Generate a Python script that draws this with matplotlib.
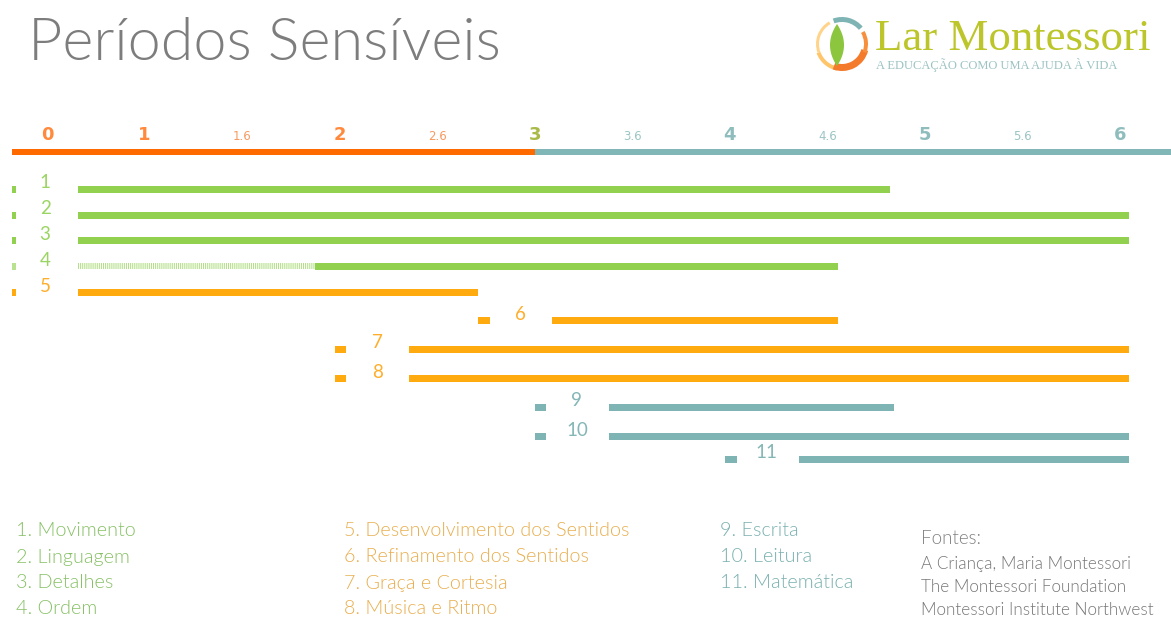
import numpy as np
import matplotlib
matplotlib.use("Agg")
import matplotlib.pyplot as plt
from matplotlib.patches import Wedge, Polygon

plt.rcParams['lines.scale_dashes'] = False

# ---------------- data ----------------
tick_labels = ['0', '1', '1.6', '2', '2.6', '3', '3.6', '4', '4.6', '5', '5.6', '6']
tick_major = [True, True, False, True, False, True, False, True, False, True, False, True]
row_ids = ['1', '2', '3', '4', '5', '6', '7', '8', '9', '10', '11']
row_group = ['g', 'g', 'g', 'g', 'o', 'o', 'o', 'o', 't', 't', 't']
# positions on the tick-index scale (0 = "0", 11 = "6")
marker_pos = [-0.34, -0.34, -0.34, -0.34, -0.34, 4.48, 3.01, 3.01, 5.06, 5.06, 7.01]
label_pos = [-0.02, -0.02, -0.02, -0.02, -0.02, 4.85, 3.39, 3.39, 5.43, 5.44, 7.38]
bar_start = [0.32, 0.32, 0.32, 0.32, 0.32, 5.18, 3.71, 3.71, 5.76, 5.76, 7.71]
bar_end = [8.64, 11.09, 11.09, 8.11, 4.42, 8.11, 11.09, 11.09, 8.68, 11.09, 11.09]
dashed_end = [None, None, None, 2.75, None, None, None, None, None, None, None]
axis_split = 5  # orange until "3", teal after

legend_green = ['1. Movimento', '2. Linguagem', '3. Detalhes', '4. Ordem']
legend_orange = ['5. Desenvolvimento dos Sentidos', '6. Refinamento dos Sentidos',
                 '7. Graça e Cortesia', '8. Música e Ritmo']
legend_teal = ['9. Escrita', '10. Leitura', '11. Matemática']
sources = ['A Criança, Maria Montessori', 'The Montessori Foundation',
           'Montessori Institute Northwest']

# ---------------- style ----------------
W, H = 1171, 621
C_BAR = {'g': '#92d050', 'o': '#ffab0f', 't': '#7fb4b4'}
C_LAB = {'g': '#9ad563', 'o': '#ffae2b', 't': '#85b6b6'}
C_LEG = {'g': '#86c064', 'o': '#e8ae4e', 't': '#79afaf'}
row_y = [189, 215, 240, 266, 292, 320, 349, 378, 407, 436, 459]
FONT = 'Lato'

fig = plt.figure(figsize=(W / 100, H / 100), dpi=100)
deco = fig.add_axes([0, 0, 1, 1])
deco.set_xlim(0, W)
deco.set_ylim(H, 0)
deco.axis('off')

ax = fig.add_axes([0, 0, 1, 1])
x0_px, step_px = 47, 97.55
ax.set_xlim((0 - x0_px) / step_px, (W - x0_px) / step_px)
ax.set_ylim(H, 0)
ax.axis('off')
ax.patch.set_alpha(0)

# title
deco.text(28, 60, 'Períodos Sensíveis', fontsize=42.7, color='#7d7d7d',
          family=FONT, weight=300, va='baseline', ha='left')

# logo
cx, cy, r = 842, 44, 27
def vis_wedge(v1, v2, rr, w, color):
    deco.add_patch(Wedge((cx, cy), rr, -v2, -v1, width=w, color=color, lw=0))
vis_wedge(200, 260, r, 4, '#ffc56b')
vis_wedge(250, 345, r, 7, '#f47a2c')
vis_wedge(-20, 30, r - 1, 4, '#f7903c')
vis_wedge(40, 110, r, 5, '#7fb4b4')
vis_wedge(120, 200, r - 1, 3, '#ffd48a')
s = np.linspace(-1, 1, 60)
hx = 7 * (1 - s ** 2)
leaf = np.concatenate([np.column_stack([837 + hx, cy + 1 + 21 * s]),
                       np.column_stack([837 - hx[::-1], cy + 1 + 21 * s[::-1]])])
deco.add_patch(Polygon(leaf, closed=True, color='#8cc63f', lw=0))
deco.text(875, 50, 'Lar Montessori', fontsize=32.3, color='#bcc62a',
          family='Liberation Serif', va='baseline', ha='left')
deco.text(876, 69, 'A EDUCAÇÃO COMO UMA AJUDA À VIDA', fontsize=9.0, color='#9cc2c2',
          family='Liberation Serif', va='baseline', ha='left')

# axis bar and tick labels
xl = ax.get_xlim()
ax.barh(152, axis_split - (xl[0] + 0.12), left=xl[0] + 0.12,
        height=6, color='#ff6a00', lw=0)
ax.barh(152, xl[1] - axis_split, left=axis_split, height=6,
        color='#80b6b6', lw=0)
for i, (lab, maj) in enumerate(zip(tick_labels, tick_major)):
    if i < axis_split:
        col = '#ff8a3d' if maj else '#f79a62'
    elif i == axis_split:
        col = '#a9ba48'
    else:
        col = '#8fbdbd' if maj else '#9cc4c4'
    ax.text(i, 140, lab, fontsize=13 if maj else 8.5, color=col,
            family='DejaVu Sans', weight='bold' if maj else 'normal',
            ha='center', va='baseline')

# rows
for k in range(len(row_ids)):
    g = row_group[k]
    y = row_y[k]
    col = C_BAR[g]
    if k < 5:
        mw = 0.04
        mcol = '#b8e28f' if dashed_end[k] is not None else col
    else:
        mw = 0.12
        mcol = col
    ax.barh(y, mw, left=marker_pos[k] - mw / 2, height=7, color=mcol, lw=0)
    ax.text(label_pos[k], y - 6, row_ids[k], fontsize=13.5, color=C_LAB[g],
            family=FONT, ha='center', va='center')
    if dashed_end[k] is not None:
        ax.plot([bar_start[k], dashed_end[k]], [y, y], color='#b3df86', lw=4.3,
                dashes=(0.75, 0.75), dash_capstyle='butt', solid_capstyle='butt')
        ax.barh(y, bar_end[k] - dashed_end[k], left=dashed_end[k], height=7,
                color=col, lw=0)
    else:
        ax.barh(y, bar_end[k] - bar_start[k], left=bar_start[k], height=7,
                color=col, lw=0)

# legends
LEG_FS = 14.2
for j, t in enumerate(legend_green):
    deco.text(16, 531 + 26 * j, t, fontsize=LEG_FS, color=C_LEG['g'], family=FONT,
              weight=300, va='center', ha='left')
for j, t in enumerate(legend_orange):
    deco.text(344, 531 + 26 * j, t, fontsize=LEG_FS, color=C_LEG['o'], family=FONT,
              weight=300, va='center', ha='left')
for j, t in enumerate(legend_teal):
    deco.text(720, 530 + 26 * j, t, fontsize=LEG_FS, color=C_LEG['t'], family=FONT,
              weight=300, va='center', ha='left')
deco.text(921, 539, 'Fontes:', fontsize=13.5, color='#808080', family=FONT,
          weight=300, va='center', ha='left')
for j, t in enumerate(sources):
    deco.text(921, 564 + 23 * j, t, fontsize=12.3, color='#777777', family=FONT,
              weight=300, va='center', ha='left')

fig.savefig('out.png', dpi=100)
